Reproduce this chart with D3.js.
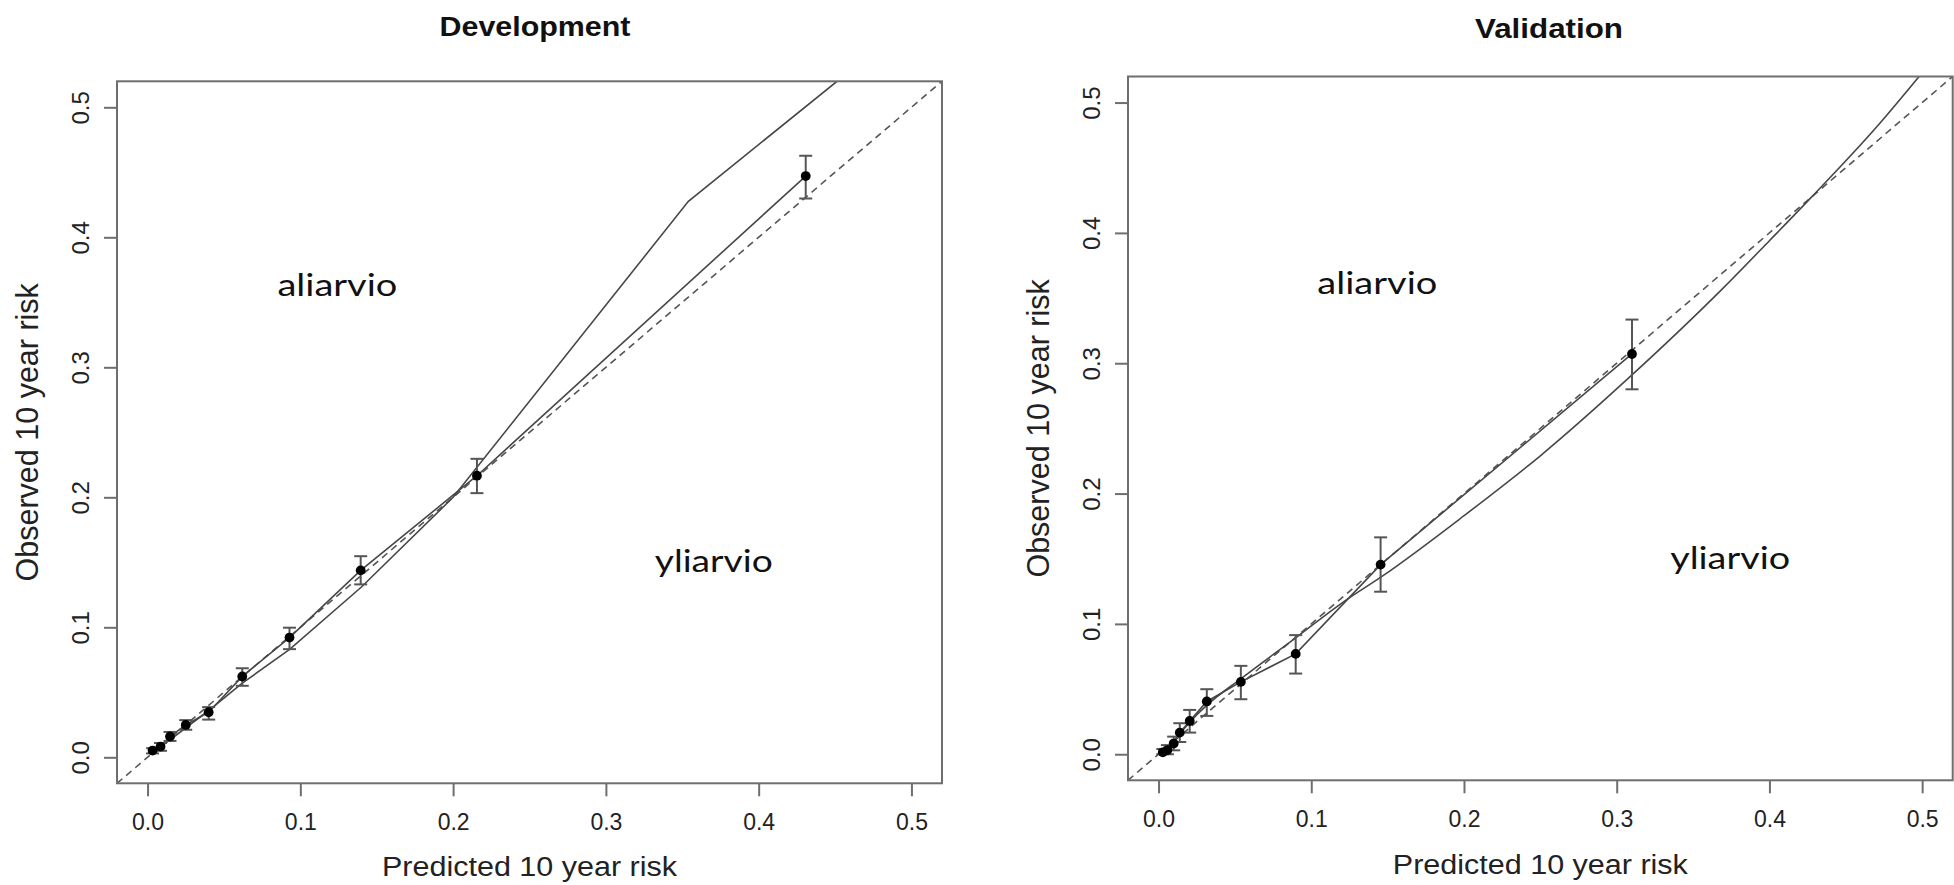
<!DOCTYPE html>
<html>
<head>
<meta charset="utf-8">
<script src="https://cdn.jsdelivr.net/npm/d3@7"></script>
<style>
  html, body { margin: 0; padding: 0; background: #fff; }
  svg { display: block; }
</style>
</head>
<body>
<svg id="chart" width="1954" height="885"></svg>
<script>
// ---------------- DATA ----------------
const tickValues = [0.0, 0.1, 0.2, 0.3, 0.4, 0.5];
const tickLabels = ["0.0", "0.1", "0.2", "0.3", "0.4", "0.5"];
const panelTitles = ["Development", "Validation"];
const xAxisTitle = "Predicted 10 year risk";
const yAxisTitle = "Observed 10 year risk";
const annotationTexts = ["aliarvio", "yliarvio"];

// Development: observed decile points with error bars
const devPred = [0.0033, 0.0085, 0.0147, 0.025, 0.040, 0.0620, 0.0929, 0.1395, 0.2156, 0.4308];
const devObs  = [0.0052, 0.0082, 0.0160, 0.0249, 0.0347, 0.0622, 0.0921, 0.1438, 0.2166, 0.4471];
const devLow  = [0.0030, 0.0050, 0.0126, 0.0212, 0.0290, 0.0550, 0.0832, 0.1330, 0.2032, 0.4298];
const devHigh = [0.0070, 0.0110, 0.0195, 0.0286, 0.0386, 0.0685, 0.0997, 0.1547, 0.2296, 0.4627];
// Development: second (smoothed) calibration line
const devSmoothPred = [0.003, 0.040, 0.062, 0.093, 0.140, 0.200, 0.354, 0.4513];
const devSmoothObs  = [0.003, 0.036, 0.057, 0.083, 0.131, 0.200, 0.4277, 0.520];

// Validation: observed decile points with error bars
const valPred = [0.0028, 0.0058, 0.0099, 0.0139, 0.0204, 0.0316, 0.0539, 0.0898, 0.1454, 0.3100];
const valObs  = [0.0015, 0.0032, 0.0082, 0.0166, 0.0255, 0.0405, 0.0555, 0.0770, 0.1455, 0.3071];
const valLow  = [0.0000, 0.0000, 0.0030, 0.0094, 0.0166, 0.0294, 0.0422, 0.0619, 0.1247, 0.2800];
const valHigh = [0.0040, 0.0070, 0.0135, 0.0238, 0.0340, 0.0499, 0.0678, 0.0914, 0.1664, 0.3335];
// Validation: smoothed calibration curve
const valSmoothPred = [0.002, 0.005, 0.012, 0.020, 0.032, 0.054, 0.090, 0.120, 0.147, 0.200, 0.250, 0.310, 0.370, 0.400, 0.428, 0.470, 0.498];
const valSmoothObs  = [0.001, 0.004, 0.013, 0.024, 0.038, 0.058, 0.0895, 0.116, 0.137, 0.183, 0.229, 0.291, 0.358, 0.394, 0.428, 0.481, 0.520];

const domain = [-0.02, 0.52];
const diagonal = [-0.02, 0.52];

// ---------------- LAYOUT ----------------
const panels = [
  { title: panelTitles[0], pred: devPred, obs: devObs, lo: devLow, hi: devHigh,
    sPred: devSmoothPred, sObs: devSmoothObs, smoothCurve: d3.curveLinear,
    box: { x0: 117, x1: 942, y0: 81.3, y1: 783.3 },
    titleX: 535, titleY: 36, titleW: 191,
    xLabY: 830, xTitleY: 875.5,
    ann: [[0.085, 0.355, 120], [0.332, 0.1425, 118]] },
  { title: panelTitles[1], pred: valPred, obs: valObs, lo: valLow, hi: valHigh,
    sPred: valSmoothPred, sObs: valSmoothObs, smoothCurve: d3.curveMonotoneX,
    box: { x0: 1128, x1: 1952.7, y0: 76.5, y1: 780.3 },
    titleX: 1549, titleY: 38, titleW: 148,
    xLabY: 827, xTitleY: 874,
    ann: [[0.104, 0.3535, 120], [0.335, 0.1419, 120]] }
];

const svg = d3.select("#chart");
const AX_FONT = "'Liberation Sans', Arial, Helvetica, sans-serif";
const boxColor = "#6e6e6e";
const lineColor = "#474747";

panels.forEach((p, i) => {
  const b = p.box;
  const x = d3.scaleLinear().domain(domain).range([b.x0, b.x1]);
  const y = d3.scaleLinear().domain(domain).range([b.y1, b.y0]);
  const g = svg.append("g");

  const clipId = "clip" + i;
  svg.append("clipPath").attr("id", clipId)
    .append("rect").attr("x", b.x0).attr("y", b.y0)
    .attr("width", b.x1 - b.x0).attr("height", b.y1 - b.y0);

  const plot = g.append("g").attr("clip-path", `url(#${clipId})`);

  // ideal diagonal (dashed)
  plot.append("line")
    .attr("x1", x(diagonal[0])).attr("y1", y(diagonal[0]))
    .attr("x2", x(diagonal[1])).attr("y2", y(diagonal[1]))
    .attr("stroke", "#555").attr("stroke-width", 1.6)
    .attr("stroke-dasharray", "7,5");

  // smoothed curve
  const sData = p.sPred.map((v, k) => [v, p.sObs[k]]);
  plot.append("path")
    .attr("d", d3.line().x(d => x(d[0])).y(d => y(d[1])).curve(p.smoothCurve)(sData))
    .attr("fill", "none").attr("stroke", lineColor).attr("stroke-width", 1.6);

  // line connecting points
  const pData = p.pred.map((v, k) => [v, p.obs[k]]);
  plot.append("path")
    .attr("d", d3.line().x(d => x(d[0])).y(d => y(d[1]))(pData))
    .attr("fill", "none").attr("stroke", lineColor).attr("stroke-width", 1.6);

  // error bars
  const eb = plot.append("g").attr("stroke", "#555").attr("stroke-width", 2);
  p.pred.forEach((v, k) => {
    const cx = x(v);
    eb.append("line").attr("x1", cx).attr("x2", cx).attr("y1", y(p.lo[k])).attr("y2", y(p.hi[k]));
    eb.append("line").attr("x1", cx - 6.5).attr("x2", cx + 6.5).attr("y1", y(p.lo[k])).attr("y2", y(p.lo[k]));
    eb.append("line").attr("x1", cx - 6.5).attr("x2", cx + 6.5).attr("y1", y(p.hi[k])).attr("y2", y(p.hi[k]));
  });

  // points
  plot.selectAll("circle.pt").data(pData).enter().append("circle")
    .attr("cx", d => x(d[0])).attr("cy", d => y(d[1])).attr("r", 4.9)
    .attr("fill", "#000");

  // box
  g.append("rect").attr("x", b.x0).attr("y", b.y0)
    .attr("width", b.x1 - b.x0).attr("height", b.y1 - b.y0)
    .attr("fill", "none").attr("stroke", boxColor).attr("stroke-width", 2);

  // x axis
  const xa = g.append("g").attr("transform", `translate(0,${b.y1})`)
    .call(d3.axisBottom(x).tickValues(tickValues).tickSize(13).tickSizeOuter(0)
      .tickFormat((d, k) => tickLabels[k]));
  xa.select(".domain").remove();
  xa.selectAll(".tick line").attr("stroke", boxColor).attr("stroke-width", 2);
  xa.selectAll(".tick text")
    .attr("y", p.xLabY - b.y1).attr("dy", null)
    .attr("font-family", AX_FONT).attr("font-size", 23).attr("fill", "#222");

  // y axis
  const ya = g.append("g").attr("transform", `translate(${b.x0},0)`)
    .call(d3.axisLeft(y).tickValues(tickValues).tickSize(13).tickSizeOuter(0)
      .tickFormat((d, k) => tickLabels[k]));
  ya.select(".domain").remove();
  ya.selectAll(".tick line").attr("stroke", boxColor).attr("stroke-width", 2);
  ya.selectAll(".tick text")
    .attr("transform", "rotate(-90)")
    .attr("x", 0).attr("y", -28).attr("dy", null)
    .attr("text-anchor", "middle")
    .attr("font-family", AX_FONT).attr("font-size", 24).attr("fill", "#222");

  // axis titles
  g.append("text")
    .attr("x", (b.x0 + b.x1) / 2).attr("y", p.xTitleY)
    .attr("text-anchor", "middle")
    .attr("font-family", AX_FONT).attr("font-size", 27).attr("fill", "#222")
    .attr("textLength", 295).attr("lengthAdjust", "spacingAndGlyphs")
    .text(xAxisTitle);

  const ytx = b.x0 - 79, yty = (b.y0 + b.y1) / 2;
  g.append("text")
    .attr("transform", `translate(${ytx},${yty}) rotate(-90)`)
    .attr("text-anchor", "middle")
    .attr("font-family", AX_FONT).attr("font-size", 30.5).attr("fill", "#222")
    .text(yAxisTitle);

  // panel title
  g.append("text")
    .attr("x", p.titleX).attr("y", p.titleY)
    .attr("text-anchor", "middle")
    .attr("font-family", AX_FONT).attr("font-weight", "bold").attr("font-size", 27.5)
    .attr("fill", "#111")
    .attr("textLength", p.titleW).attr("lengthAdjust", "spacingAndGlyphs")
    .text(p.title);

  // annotations
  p.ann.forEach((a, k) => {
    g.append("text")
      .attr("x", x(a[0])).attr("y", y(a[1]))
      .attr("font-family", "Lato, 'Open Sans', sans-serif").attr("font-size", 31)
      .attr("fill", "#111")
      .attr("textLength", a[2]).attr("lengthAdjust", "spacingAndGlyphs")
      .text(annotationTexts[k]);
  });
});
</script>
</body>
</html>
